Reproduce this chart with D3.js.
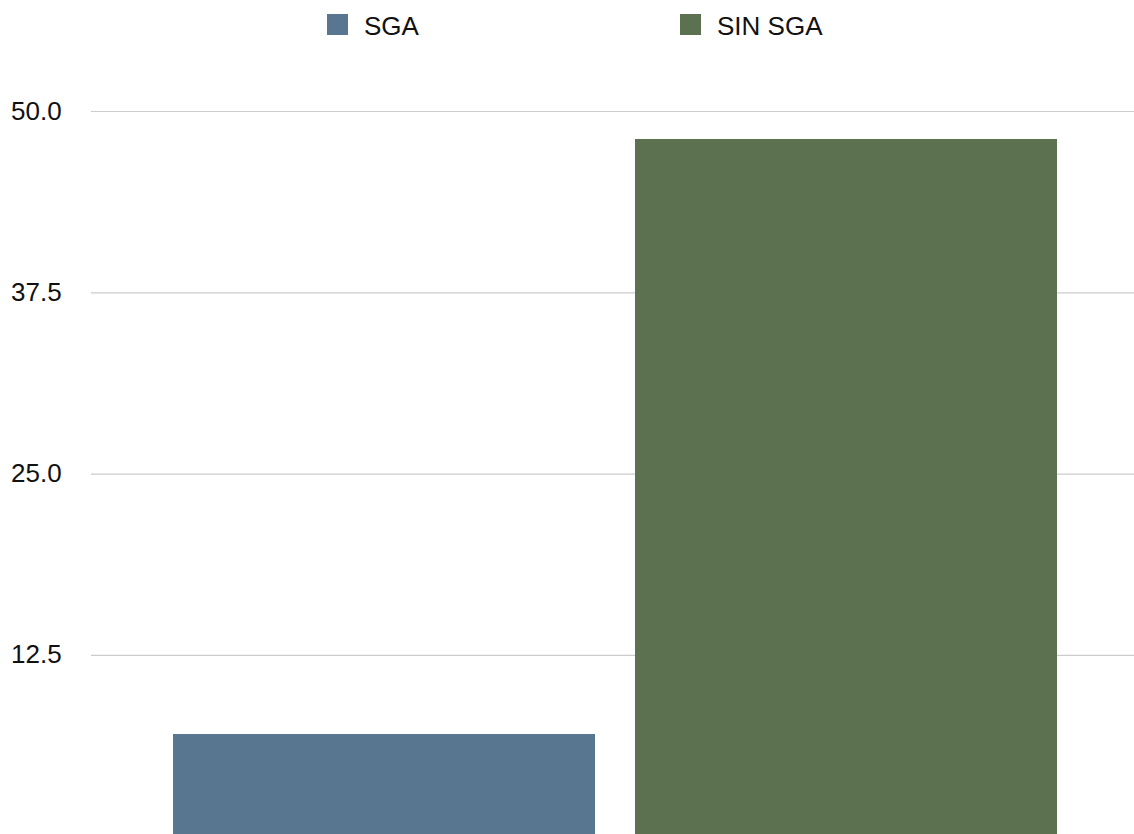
<!DOCTYPE html>
<html>
<head>
<meta charset="utf-8">
<script src="https://cdn.jsdelivr.net/npm/d3@7"></script>
<style>
html,body{margin:0;padding:0;background:#fff;}
svg{display:block;font-family:"Liberation Sans",Arial,sans-serif;}
</style>
</head>
<body>
<svg id="chart" width="1134" height="834"></svg>
<script>
const categories = ["SGA", "SIN SGA"];
const values = [7.05, 48.07];
const colors = ["#587690", "#5c7150"];
const tickValues = [12.5, 25.0, 37.5, 50.0];

const svg = d3.select("#chart");
const x = d3.scaleBand().domain(categories).range([96, 1134]).paddingInner(0.0866).paddingOuter(0.1667);
const y = d3.scaleLinear().domain([0, 50]).range([836.3, 111]);

// gridlines
const yAxis = d3.axisLeft(y).tickValues(tickValues).tickFormat(d3.format(".1f")).tickSize(-(1134 - 91)).tickPadding(29);
const g = svg.append("g").attr("transform", "translate(91,0)").call(yAxis);
g.select(".domain").remove();
g.selectAll(".tick line").attr("stroke", "#cccccc").attr("stroke-width", 1.2);
g.selectAll(".tick text").attr("fill", "#111").style("font-size", "26px")
  .attr("text-anchor", "start").attr("x", -80).attr("dy", null).attr("y", 8);

// bars
svg.append("g").selectAll("rect").data(categories).join("rect")
  .attr("x", d => x(d))
  .attr("width", x.bandwidth())
  .attr("y", (d, i) => y(values[i]))
  .attr("height", (d, i) => y(0) - y(values[i]))
  .attr("fill", (d, i) => colors[i]);

// legend
const legendX = [327, 680];
const lg = svg.append("g").selectAll("g").data(categories).join("g")
  .attr("transform", (d, i) => `translate(${legendX[i]},0)`);
lg.append("rect").attr("x", 0).attr("y", 14).attr("width", 21).attr("height", 21).attr("fill", (d, i) => colors[i]);
lg.append("text").attr("x", 37).attr("y", 34.5).text(d => d).attr("fill", "#111").style("font-size", "26px");
</script>
</body>
</html>
